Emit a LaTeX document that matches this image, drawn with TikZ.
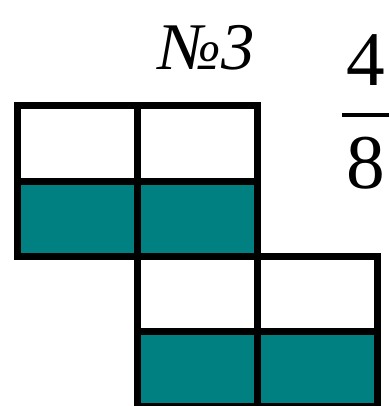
\documentclass[tikz,border=0pt]{standalone}
\usepackage{fontspec}
\setmainfont{Liberation Serif}
\usepackage{xcolor}
\usetikzlibrary{positioning}
\definecolor{cellteal}{RGB}{0,128,128}

\begin{document}
\begin{tikzpicture}[
  x=0.75pt, y=-0.75pt,
  cell/.style={draw, line width=5.25pt, minimum width=90pt, minimum height=56.25pt,
    inner sep=0pt, outer sep=0pt, fill=white},
  shaded/.style={cell, fill=cellteal},
  label/.style={inner sep=0pt, anchor=base, font=\fontsize{50}{60}\selectfont\itshape},
  digit/.style={inner sep=0pt, anchor=base, font=\fontsize{58}{70}\selectfont}]

  \useasboundingbox (0,0) rectangle (389,406);

  % upper block
  \node[cell] (a1) at (77,143.5) {};
  \node[cell, right=0pt of a1] (a2) {};
  \node[shaded, below=0pt of a1] (b1) {};
  \node[shaded, right=0pt of b1] (b2) {};
  % lower block
  \node[cell, below=0pt of b2] (c1) {};
  \node[cell, right=0pt of c1] (c2) {};
  \node[shaded, below=0pt of c1] (d1) {};
  \node[shaded, right=0pt of d1] (d2) {};

  \node[label] (num) at (207,70) {№3};

  % fraction
  \node[digit] (top) at (366,86) {4};
  \node[digit] (bot) at (366,188) {8};
  \coordinate (barl) at (342,115);
  \coordinate (barr) at (389,115);
  \draw[line width=3pt] (barl) -- (barr);
\end{tikzpicture}
\end{document}
